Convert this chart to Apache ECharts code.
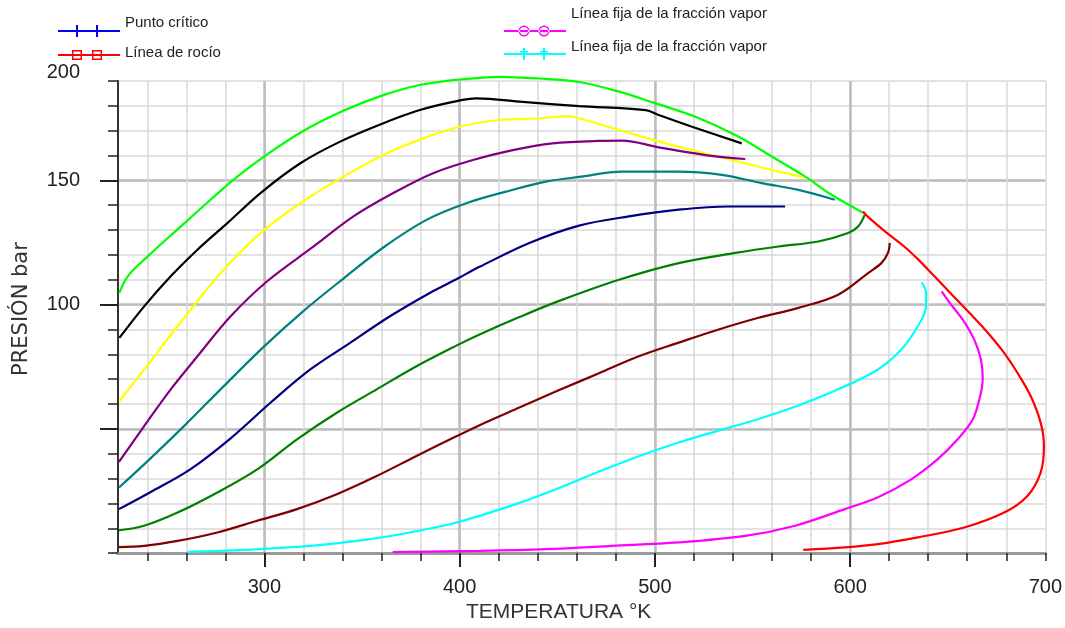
<!DOCTYPE html>
<html>
<head>
<meta charset="utf-8">
<script src="https://cdn.jsdelivr.net/npm/echarts@6/dist/echarts.min.js"></script>
<style>html,body{margin:0;padding:0;background:#fff}#c{width:1065px;height:628px}</style>
</head>
<body>
<div id="c"></div>
<script>
// ---- axis ranges & ticks ----
const xMin = 225, xMax = 700;
const yMin = 0, yMax = 190;
const xMinorTicks = [240,260,280,300,320,340,360,380,400,420,440,460,480,500,520,540,560,580,600,620,640,660,680,700];
const xMajorTicks = [300,400,500,600];
const xLabelValues = [300,400,500,600,700];
const yMajorTicks = [50,100,150];
const yLabelValues = [100,150,190];
const yLabelTexts = ['100','150','200'];

// ---- curves: [temperature K, pressure bar] ----
const criticalPoint = [];
const curveLime = [[225.7,104.7],[230.0,111.4],[240.2,119.4],[257.1,131.4],[272.4,142.2],[286.1,151.5],[301.4,160.5],[320.1,170.0],[341.3,178.3],[360.9,184.3],[379.6,188.4],[400.0,190.6],[420.4,191.7],[440.8,191.0],[461.2,189.6],[481.6,185.7],[500.4,181.0],[520.8,175.6],[542.9,167.6],[559.9,159.6],[577.0,151.5],[590.5,144.2],[606.6,137.0]];
const curveBlack = [[225.7,86.6],[238.3,99.2],[252.0,111.4],[265.7,122.1],[281.0,132.8],[298.0,144.9],[318.4,156.9],[338.8,165.6],[360.9,173.0],[379.6,178.3],[396.6,181.6],[408.5,183.0],[432.3,181.6],[461.2,179.9],[495.3,178.3],[502.0,176.3],[519.0,171.6],[544.5,164.9]];
const curveYellow = [[225.7,61.2],[238.4,73.9],[255.5,91.3],[277.6,112.7],[298.0,128.8],[318.4,140.8],[340.5,151.5],[360.9,160.2],[381.3,166.9],[400.0,171.6],[420.4,174.3],[440.8,175.0],[456.1,175.9],[461.2,175.0],[481.6,170.3],[505.5,164.9],[529.2,160.2],[553.1,155.5],[576.0,151.3]];
const curvePurple = [[225.5,36.7],[238.4,51.1],[252.0,65.9],[265.7,79.2],[282.7,95.3],[301.4,109.4],[325.2,123.4],[345.6,135.5],[366.0,144.9],[386.4,152.9],[406.8,158.2],[427.2,162.2],[447.6,164.9],[471.4,165.9],[483.3,166.0],[502.0,163.3],[525.9,160.2],[546.3,158.6]];
const curveTeal = [[225.5,26.4],[238.4,35.7],[258.8,51.1],[279.2,67.2],[299.6,83.0],[320.1,97.5],[340.5,110.5],[360.9,123.0],[383.0,134.1],[403.4,140.8],[423.8,145.5],[444.2,149.5],[461.2,151.4],[483.3,153.5],[512.2,153.5],[534.3,152.2],[554.7,148.9],[573.5,146.2],[592.2,142.2]];
const curveNavy = [[225.5,17.7],[241.8,24.6],[262.2,33.8],[282.7,46.2],[303.1,60.5],[323.5,73.9],[343.9,84.6],[364.3,95.3],[384.7,104.7],[398.3,110.2],[410.2,115.2],[435.7,124.8],[461.2,131.8],[486.7,135.5],[512.2,138.2],[537.8,139.5],[566.7,139.5]];
const curveGreen = [[225.5,9.2],[238.4,11.0],[255.5,16.3],[275.9,24.4],[296.3,33.7],[316.7,45.8],[337.1,56.5],[357.5,65.9],[377.9,75.2],[398.3,83.5],[410.2,88.0],[430.6,95.0],[451.0,101.5],[481.6,110.0],[512.2,116.7],[541.2,120.8],[563.3,123.4],[583.7,125.4],[599.0,128.8],[604.1,131.4],[607.5,136.1]];
const curveMaroon = [[225.5,2.4],[238.4,2.9],[255.5,4.9],[275.9,8.3],[296.3,13.0],[316.7,17.7],[337.1,23.7],[357.5,31.0],[377.9,39.1],[398.3,47.0],[410.2,51.5],[430.6,58.6],[451.0,65.6],[471.4,72.4],[491.8,79.2],[512.2,84.7],[532.7,90.0],[553.1,94.7],[573.5,98.7],[593.9,104.0],[609.2,112.7],[616.0,116.7],[619.4,120.8],[620.3,124.8]];
const curveCyan = [[260.6,0.5],[289.5,1.3],[323.5,2.9],[354.1,5.6],[374.5,8.3],[394.9,11.6],[410.2,15.0],[430.6,20.2],[451.0,26.2],[471.4,32.8],[491.8,39.0],[512.2,44.5],[532.7,49.3],[553.1,54.0],[573.5,59.4],[593.9,65.9],[614.3,73.9],[626.2,81.9],[634.7,91.3],[638.9,99.3],[638.9,104.7],[636.7,109.0]];
const curveMagenta = [[365.7,0.4],[410.2,0.9],[444.2,1.6],[478.2,2.9],[512.2,4.3],[546.3,6.9],[571.8,11.0],[597.3,17.7],[614.3,22.5],[631.3,29.7],[644.9,37.8],[655.1,45.8],[662.8,53.8],[666.2,61.8],[667.9,69.9],[667.0,77.9],[663.6,85.9],[657.7,94.0],[651.7,100.0],[646.9,105.3]];
const curveRed = [[576.0,1.3],[597.3,2.3],[614.3,3.6],[634.7,6.3],[658.5,10.3],[678.9,16.3],[690.8,23.0],[697.6,32.4],[699.3,43.1],[697.6,52.5],[692.5,63.2],[685.7,72.6],[678.9,80.6],[670.4,88.8],[661.1,96.7],[652.2,104.0],[643.2,111.4],[634.7,118.3],[627.4,123.6],[617.7,129.6],[609.2,135.3],[606.6,137.5]];

const nameCritical = 'Punto crítico';
const nameDew = 'Línea de rocío';
const nameFixA = 'Línea fija de la fracción vapor';
const nameFixB = 'Línea fija de la fracción vapor ';

// ---- series list ----
const seriesDefs = [
  {name: nameCritical, color: '#0000ff', data: criticalPoint},
  {name: 'c1', color: '#00ff00', data: curveLime},
  {name: 'c2', color: '#000000', data: curveBlack},
  {name: 'c3', color: '#ffff00', data: curveYellow},
  {name: 'c4', color: '#800080', data: curvePurple},
  {name: 'c5', color: '#008080', data: curveTeal},
  {name: 'c6', color: '#000080', data: curveNavy},
  {name: 'c7', color: '#008000', data: curveGreen},
  {name: 'c8', color: '#800000', data: curveMaroon},
  {name: nameFixB, color: '#00ffff', data: curveCyan},
  {name: nameFixA, color: '#ff00ff', data: curveMagenta},
  {name: nameDew, color: '#ff0000', data: curveRed}
];

const FONT = 'Liberation Sans';
const iconPlus = 'path://M0,5h62v2h-62z M18,0h2v12h-2z M38,0h2v12h-2z';
const iconSquare = 'path://M0,4h62v2h-62z M14,0h10v1.5h-10z M14,8.5h10v1.5h-10z M14,0h1.5v10h-1.5z M22.5,0h1.5v10h-1.5z M34,0h10v1.5h-10z M34,8.5h10v1.5h-10z M34,0h1.5v10h-1.5z M42.5,0h1.5v10h-1.5z';
const iconCircle = 'path://M0,5h62v2h-62z M14.5,6a5.5,5.5 0 1,0 11,0a5.5,5.5 0 1,0 -11,0z M16,6a4,4 0 1,1 8,0a4,4 0 1,1 -8,0z M34.5,6a5.5,5.5 0 1,0 11,0a5.5,5.5 0 1,0 -11,0z M36,6a4,4 0 1,1 8,0a4,4 0 1,1 -8,0z';
const iconStar = 'path://M0,5h62v2h-62z M19,0h2v12h-2z M39,0h2v12h-2z M16,3h8v1.5h-8z M36,3h8v1.5h-8z';

function legendBox(name, icon, left, top, itemHeight, lift) {
  return {
    data: [{name: name, icon: icon}],
    left: left, top: top, orient: 'vertical', padding: 0,
    itemWidth: 62, itemHeight: itemHeight, selectedMode: false,
    formatter: function (n) { return '{t|' + n.trim() + '}'; },
    textStyle: {
      fontFamily: FONT, fontSize: 15, color: '#222',
      rich: {t: {fontFamily: FONT, fontSize: 15, color: '#222', padding: [0, 0, lift, 0]}}
    }
  };
}

const chart = echarts.init(document.getElementById('c'), null, {renderer: 'canvas'});
chart.setOption({
  animation: false,
  backgroundColor: '#ffffff',
  textStyle: {fontFamily: FONT},
  grid: {left: 118, right: 17, top: 81, bottom: 74, containLabel: false},
  legend: [
    legendBox(nameCritical, iconPlus, 58, 15.5, 12, 16),
    legendBox(nameDew, iconSquare, 58, 45.5, 10, 4),
    legendBox(nameFixA, iconCircle, 504, 6.5, 12, 34),
    legendBox(nameFixB, iconStar, 504, 39.5, 12, 14)
  ],
  xAxis: [
    {
      type: 'value', min: xMin, max: xMax, position: 'bottom',
      axisLine: {show: true, onZero: false, lineStyle: {color: '#9a9a9a', width: 3}},
      axisTick: {show: true, customValues: xMinorTicks, length: 8, lineStyle: {color: '#222', width: 1.5}},
      axisLabel: {show: true, customValues: xLabelValues, margin: 24, fontSize: 20, fontFamily: FONT, color: '#222'},
      splitLine: {show: true, lineStyle: {color: '#d9d9d9', width: 1.5}},
      name: 'TEMPERATURA °K', nameLocation: 'middle', nameGap: 46,
      nameTextStyle: {fontSize: 21, fontFamily: FONT, color: '#333', padding: [0, 46, 0, 0]}
    },
    {
      type: 'value', min: xMin, max: xMax, position: 'bottom',
      axisLine: {show: false},
      axisTick: {show: true, customValues: xMajorTicks, length: 14, lineStyle: {color: '#222', width: 2}},
      axisLabel: {show: false},
      splitLine: {show: true, lineStyle: {color: '#bcbcbc', width: 2.5}}
    }
  ],
  yAxis: [
    {
      type: 'value', min: yMin, max: yMax, interval: 10, position: 'left',
      axisLine: {show: true, onZero: false, lineStyle: {color: '#333', width: 2}},
      axisTick: {show: true, length: 10, lineStyle: {color: '#222', width: 1.5}},
      axisLabel: {
        show: true, interval: 0, margin: 38, fontSize: 20, fontFamily: FONT, color: '#222',
        formatter: function (v) {
          const i = yLabelValues.indexOf(v);
          if (i < 0) return '';
          return v === yMax ? '{top|' + yLabelTexts[i] + '}' : yLabelTexts[i];
        },
        rich: {top: {fontSize: 20, fontFamily: FONT, color: '#222', padding: [0, 0, 18, 0]}}
      },
      splitLine: {show: true, lineStyle: {color: '#d9d9d9', width: 1.5}},
      name: 'PRESIÓN bar', nameLocation: 'middle', nameRotate: 90, nameGap: 86,
      nameTextStyle: {fontSize: 21, fontFamily: 'DejaVu Sans', color: '#333', padding: [0, 0, 0, 16]}
    },
    {
      type: 'value', min: yMin, max: yMax, interval: 50, position: 'left',
      axisLine: {show: false},
      axisTick: {show: true, customValues: yMajorTicks, length: 18, lineStyle: {color: '#222', width: 2}},
      axisLabel: {show: false},
      splitLine: {show: true, lineStyle: {color: '#bcbcbc', width: 2.5}}
    }
  ],
  series: seriesDefs.map(function (s) {
    return {
      type: 'line', name: s.name, data: s.data,
      xAxisIndex: 0, yAxisIndex: 0,
      color: s.color, smooth: 0.35, showSymbol: false, symbol: 'none', clip: false,
      lineStyle: {color: s.color, width: 2.2},
      emphasis: {disabled: true}
    };
  })
});
</script>
</body>
</html>
